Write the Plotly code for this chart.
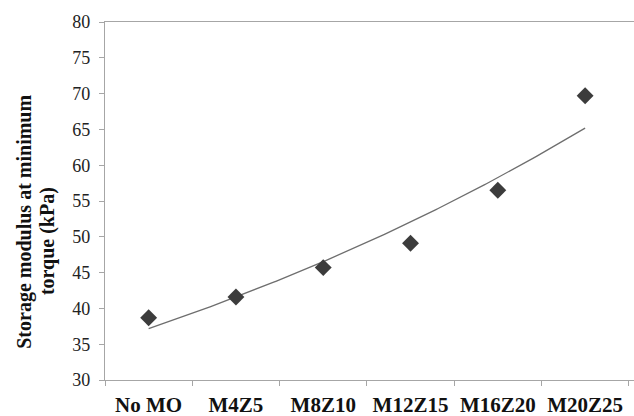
import numpy as np
import plotly.graph_objects as go

# Samples and measured storage modulus at minimum torque (kPa)
categories = ["No MO", "M4Z5", "M8Z10", "M12Z15", "M16Z20", "M20Z25"]
modulus = [38.7, 41.6, 45.7, 49.1, 56.5, 69.7]
y_ticks = [30, 35, 40, 45, 50, 55, 60, 65, 70, 75, 80]
y_title_lines = ["Storage modulus at minimum", "torque (kPa)"]

pos = np.arange(len(categories))

# Exponential trendline (least-squares fit on log values, x = 1..n)
xi = pos + 1
b, a = np.polyfit(xi, np.log(modulus), 1)
xs = np.linspace(1, len(categories), 200)
trend = np.exp(a + b * xs)

x_range = [-0.5, len(categories) - 0.5 + 0.06]
axis_col = "#a6a6a6"
serif = "Liberation Serif, Times New Roman, serif"

fig = go.Figure()
fig.add_trace(go.Scatter(
    x=xs - 1, y=trend, mode="lines",
    line=dict(color="#6e6e6e", width=1.3),
    hoverinfo="skip", showlegend=False,
))
fig.add_trace(go.Scatter(
    x=pos, y=modulus, mode="markers",
    marker=dict(symbol="diamond", size=13, color="#3c3c3c"),
    showlegend=False,
))
# dummy trace to activate the secondary x axis for boundary ticks
fig.add_trace(go.Scatter(x=[None], y=[None], xaxis="x2", showlegend=False, hoverinfo="skip"))

fig.update_layout(
    width=634, height=416,
    margin=dict(l=105, r=0, t=22, b=36),
    paper_bgcolor="white", plot_bgcolor="white",
    font=dict(family=serif, color="#222222"),
    xaxis=dict(
        range=x_range, tickmode="array", tickvals=list(pos), ticktext=categories,
        ticks="", showgrid=False, zeroline=False,
        showline=True, linecolor=axis_col, linewidth=1.3, mirror=True,
        ticklabelstandoff=6,
        tickfont=dict(family=serif, size=21, color="#111111", weight="bold"),
    ),
    xaxis2=dict(
        range=x_range, overlaying="x", side="bottom", anchor="y",
        tickmode="array", tickvals=[p - 0.5 for p in pos] + [len(categories) - 0.5],
        ticks="outside", ticklen=5, tickcolor=axis_col, tickwidth=1,
        showticklabels=False, showgrid=False, zeroline=False, showline=False,
    ),
    yaxis=dict(
        range=[30, 80], tickmode="array", tickvals=y_ticks,
        ticks="outside", ticklen=5, tickcolor=axis_col, tickwidth=1,
        showgrid=False, zeroline=False,
        showline=True, linecolor=axis_col, linewidth=1.3,
        ticklabelstandoff=5,
        tickfont=dict(family=serif, size=18, color="#222222"),
    ),
)

# Two-line rotated axis title
title_font = dict(family=serif, size=20, color="#111111", weight="bold")
for text, xpix, ycen in [(y_title_lines[0], 25, 0.442), (y_title_lines[1], 47, 0.388)]:
    fig.add_annotation(
        text=text, textangle=-90, font=title_font,
        xref="paper", yref="paper", x=0, y=ycen,
        xanchor="center", yanchor="middle", xshift=xpix - 105,
        showarrow=False,
    )

fig.write_html("out.html")
